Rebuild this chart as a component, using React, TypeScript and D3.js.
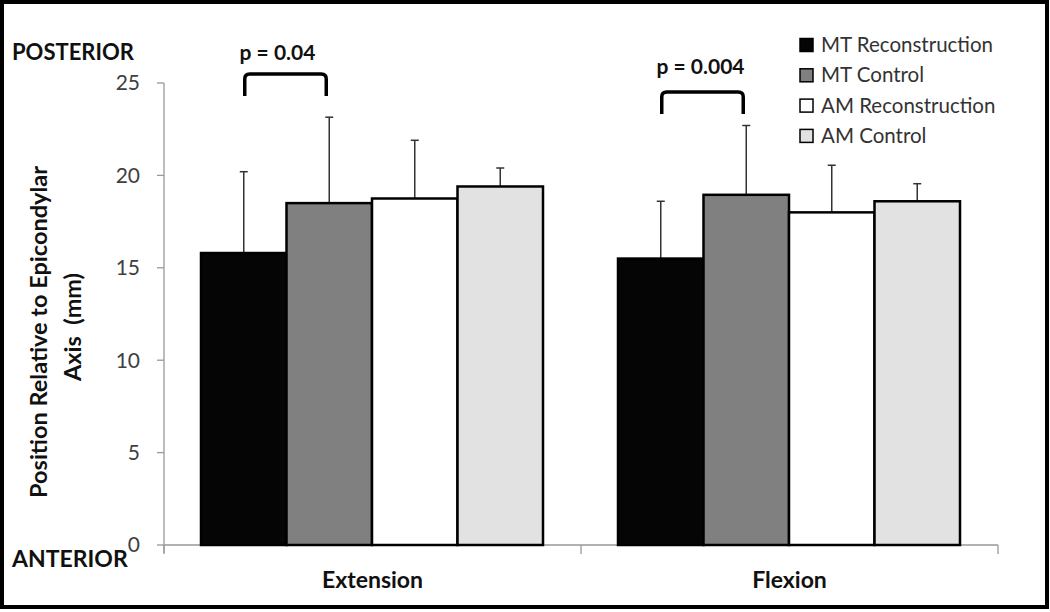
import React from "react";
import * as d3 from "d3";

const categories = ["Extension", "Flexion"];
const seriesNames = ["MT Reconstruction", "MT Control", "AM Reconstruction", "AM Control"];
const extensionMeans = [15.8, 18.5, 18.75, 19.4];
const flexionMeans = [15.5, 18.95, 18.0, 18.6];
const extensionSD = [4.4, 4.65, 3.15, 1.0];
const flexionSD = [3.1, 3.75, 2.55, 0.95];
const yTicks = [0, 5, 10, 15, 20, 25];
const pLabels = ["p = 0.04", "p = 0.004"];

const fills = ["#050505", "#808080", "#ffffff", "#e2e2e2"];
const FONT = "Lato, 'Open Sans', sans-serif";

export default function App() {
  const W = 1050, H = 612;
  const y = d3.scaleLinear().domain([0, 25]).range([545, 83]);
  const x0 = d3.scaleBand<string>().domain(categories).range([164, 998]).padding(0);
  const x1 = d3.scaleBand<string>().domain(seriesNames).range([37, 379]).padding(0);
  const means = [extensionMeans, flexionMeans];
  const sds = [extensionSD, flexionSD];

  const bracketTop = [74, 92];
  const bracketLeg = 22;
  const textGap = [14, 18];
  const textShift = [-8, -2];
  const r = 5;

  return (
    <svg width={W} height={H} style={{ position: "absolute", left: 0, top: 0, background: "#fff" }}>
      <rect x={0} y={0} width={W} height={H} fill="#fff" />
      <rect x={2} y={2} width={1045} height={605} fill="none" stroke="#000" strokeWidth={4} />

      {/* y axis */}
      <line x1={164} x2={164} y1={y(25)} y2={553} stroke="#999" strokeWidth={1.3} />
      {yTicks.map((t) => (
        <g key={t}>
          <line x1={157} x2={164} y1={y(t)} y2={y(t)} stroke="#999" strokeWidth={1.3} />
          <text x={140} y={y(t)} dy="0.35em" textAnchor="end" fontFamily={FONT} fontSize={21} fill="#404040">
            {t}
          </text>
        </g>
      ))}

      {/* x axis */}
      <line x1={164} x2={998} y1={y(0)} y2={y(0)} stroke="#999" strokeWidth={1.3} />
      {[...categories.map((c) => x0(c)!), 998].map((v, i) => (
        <line key={i} x1={v} x2={v} y1={y(0)} y2={554} stroke="#999" strokeWidth={1.3} />
      ))}

      {/* bars */}
      {categories.map((c, ci) => (
        <g key={c}>
          {seriesNames.map((s, si) => {
            const bx = x0(c)! + x1(s)!;
            const bw = x1.bandwidth();
            const v = means[ci][si];
            const top = y(v + sds[ci][si]);
            const cx = bx + bw / 2;
            return (
              <g key={s}>
                <line x1={cx} x2={cx} y1={y(v)} y2={top} stroke="#333" strokeWidth={1.5} />
                <line x1={cx - 4} x2={cx + 4} y1={top} y2={top} stroke="#333" strokeWidth={1.5} />
                <rect x={bx} y={y(v)} width={bw} height={y(0) - y(v)} fill={fills[si]} stroke="#000" strokeWidth={2.5} />
              </g>
            );
          })}
          <text x={x0(c)! + x0.bandwidth() / 2} y={588} textAnchor="middle" fontFamily={FONT} fontWeight="bold" fontSize={23} fill="#111">
            {c}
          </text>
        </g>
      ))}

      {/* significance brackets */}
      {categories.map((c, ci) => {
        const xa = x0(c)! + x1(seriesNames[0])! + x1.bandwidth() / 2 + 1;
        const xb = x0(c)! + x1(seriesNames[1])! + x1.bandwidth() / 2 - 3;
        const t = bracketTop[ci];
        const b = t + bracketLeg;
        const d = `M${xa},${b} L${xa},${t + r} Q${xa},${t} ${xa + r},${t} L${xb - r},${t} Q${xb},${t} ${xb},${t + r} L${xb},${b}`;
        return (
          <g key={c}>
            <path d={d} fill="none" stroke="#000" strokeWidth={3.5} />
            <text x={(xa + xb) / 2 + textShift[ci]} y={t - textGap[ci]} textAnchor="middle" fontFamily={FONT} fontWeight="bold" fontSize={21} fill="#111">
              {pLabels[ci]}
            </text>
          </g>
        );
      })}

      {/* POSTERIOR / ANTERIOR */}
      <text x={12} y={60} fontFamily={FONT} fontWeight="bold" fontSize={22} fill="#111">POSTERIOR</text>
      <text x={12} y={567} fontFamily={FONT} fontWeight="bold" fontSize={23} fill="#111">ANTERIOR</text>

      {/* y axis title */}
      <g transform="translate(47,332) rotate(-90)">
        <text x={0} y={0} textAnchor="middle" fontFamily={FONT} fontWeight="bold" fontSize={23.5} fill="#111">
          Position Relative to Epicondylar
        </text>
      </g>
      <g transform="translate(81,327) rotate(-90)">
        <text x={0} y={0} textAnchor="middle" fontFamily={FONT} fontWeight="bold" fontSize={23.5} fill="#111" style={{ whiteSpace: "pre" }}>
          {"Axis  (mm)"}
        </text>
      </g>

      {/* legend */}
      {seriesNames.map((s, i) => (
        <g key={s} transform={`translate(800,${45 + i * 30.3})`}>
          <rect x={0} y={-6.5} width={13} height={13} fill={fills[i]} stroke="#000" strokeWidth={1.5} />
          <text x={21} y={0} dy="0.35em" fontFamily={FONT} fontSize={20.5} fill="#333">
            {s}
          </text>
        </g>
      ))}
    </svg>
  );
}
